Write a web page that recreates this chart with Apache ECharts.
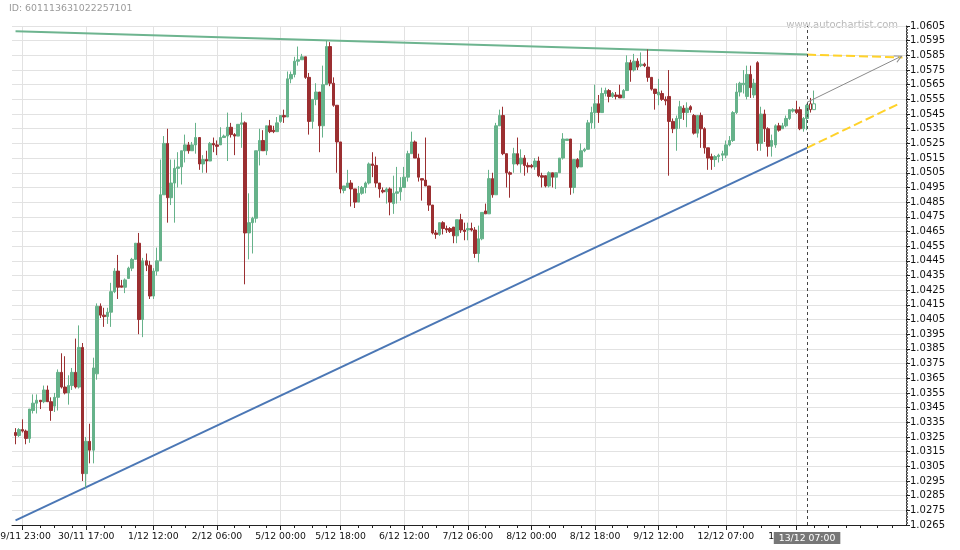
<!DOCTYPE html>
<html>
<head>
<meta charset="utf-8">
<script src="https://cdn.jsdelivr.net/npm/echarts/dist/echarts.min.js"></script>
<style>
html, body { margin: 0; padding: 0; background: #fff; }
#chart { width: 960px; height: 550px; }
</style>
</head>
<body>
<div id="chart"></div>
<script>
// hourly slots on the x axis, first candle sits in slot 1
const slotCount = 254
const tickIndex = [3, 21, 40, 58, 76, 93, 111, 129, 147, 165, 183, 202, 222]
const tickText = ['29/11 23:00', '30/11 17:00', '1/12 12:00', '2/12 06:00', '5/12 00:00', '5/12 18:00',
  '6/12 12:00', '7/12 06:00', '8/12 00:00', '8/12 18:00', '9/12 12:00', '12/12 07:00', '13/12 01:00']
const currentIndex = 225
const currentLabel = '13/12 07:00'
const hollowFrom = 226

// [open, close, low, high]
const candles = [
  [1.0328, 1.0326, 1.0320, 1.0331], [1.0326, 1.0330, 1.0325, 1.0331], [1.0330, 1.0329, 1.0328, 1.0337],
  [1.0329, 1.0324, 1.0320, 1.0330], [1.0324, 1.0344, 1.0321, 1.0344], [1.0343, 1.0348, 1.0341, 1.0354],
  [1.0348, 1.0350, 1.0341, 1.0354], [1.0350, 1.0349, 1.0344, 1.0350], [1.0349, 1.0357, 1.0348, 1.0360],
  [1.0357, 1.0349, 1.0349, 1.0360], [1.0349, 1.0343, 1.0336, 1.0352], [1.0346, 1.0352, 1.0342, 1.0355],
  [1.0352, 1.0369, 1.0343, 1.0371], [1.0369, 1.0359, 1.0358, 1.0382], [1.0359, 1.0355, 1.0354, 1.0380],
  [1.0355, 1.0360, 1.0347, 1.0367], [1.0360, 1.0369, 1.0357, 1.0372], [1.0369, 1.0359, 1.0358, 1.0392],
  [1.0359, 1.0386, 1.0358, 1.0401], [1.0386, 1.0300, 1.0295, 1.0389], [1.0300, 1.0322, 1.0290, 1.0325],
  [1.0322, 1.0316, 1.0307, 1.0334], [1.0316, 1.0372, 1.0307, 1.0379], [1.0368, 1.0414, 1.0364, 1.0416],
  [1.0414, 1.0408, 1.0406, 1.0416], [1.0408, 1.0407, 1.0400, 1.0413], [1.0407, 1.0410, 1.0402, 1.0413],
  [1.0410, 1.0424, 1.0400, 1.0430], [1.0424, 1.0438, 1.0423, 1.0440], [1.0438, 1.0427, 1.0419, 1.0449],
  [1.0428, 1.0427, 1.0427, 1.0432], [1.0427, 1.0432, 1.0423, 1.0433], [1.0433, 1.0440, 1.0433, 1.0441],
  [1.0440, 1.0446, 1.0438, 1.0447], [1.0446, 1.0457, 1.0446, 1.0457], [1.0457, 1.0405, 1.0395, 1.0464],
  [1.0405, 1.0445, 1.0393, 1.0447], [1.0445, 1.0442, 1.0438, 1.0450], [1.0442, 1.0421, 1.0419, 1.0445],
  [1.0421, 1.0438, 1.0419, 1.0440], [1.0438, 1.0445, 1.0435, 1.0454], [1.0445, 1.0490, 1.0445, 1.0514],
  [1.0490, 1.0525, 1.0490, 1.0530], [1.0525, 1.0488, 1.0471, 1.0535], [1.0488, 1.0498, 1.0483, 1.0514],
  [1.0498, 1.0508, 1.0471, 1.0514], [1.0508, 1.0509, 1.0495, 1.0519], [1.0509, 1.0520, 1.0497, 1.0520],
  [1.0520, 1.0524, 1.0512, 1.0531], [1.0524, 1.0520, 1.0518, 1.0526], [1.0520, 1.0524, 1.0520, 1.0526],
  [1.0524, 1.0529, 1.0518, 1.0539], [1.0529, 1.0511, 1.0507, 1.0529], [1.0511, 1.0514, 1.0505, 1.0517],
  [1.0514, 1.0513, 1.0505, 1.0520], [1.0513, 1.0525, 1.0513, 1.0526], [1.0525, 1.0524, 1.0519, 1.0529],
  [1.0524, 1.0523, 1.0517, 1.0527], [1.0524, 1.0529, 1.0524, 1.0536], [1.0529, 1.0530, 1.0529, 1.0531],
  [1.0530, 1.0536, 1.0513, 1.0546], [1.0536, 1.0531, 1.0529, 1.0539], [1.0531, 1.0530, 1.0517, 1.0532],
  [1.0530, 1.0538, 1.0530, 1.0538], [1.0538, 1.0539, 1.0522, 1.0546], [1.0539, 1.0464, 1.0429, 1.0540],
  [1.0464, 1.0471, 1.0446, 1.0491], [1.0471, 1.0474, 1.0450, 1.0475], [1.0474, 1.0520, 1.0471, 1.0520],
  [1.0520, 1.0527, 1.0510, 1.0535], [1.0527, 1.0520, 1.0520, 1.0534], [1.0520, 1.0537, 1.0517, 1.0537],
  [1.0537, 1.0533, 1.0532, 1.0541], [1.0534, 1.0533, 1.0532, 1.0537], [1.0533, 1.0539, 1.0533, 1.0543],
  [1.0540, 1.0544, 1.0539, 1.0544], [1.0544, 1.0543, 1.0539, 1.0548], [1.0543, 1.0569, 1.0543, 1.0574],
  [1.0569, 1.0572, 1.0566, 1.0574], [1.0572, 1.0581, 1.0570, 1.0584], [1.0581, 1.0582, 1.0578, 1.0591],
  [1.0582, 1.0584, 1.0582, 1.0586], [1.0584, 1.0570, 1.0569, 1.0584], [1.0570, 1.0540, 1.0531, 1.0573],
  [1.0540, 1.0555, 1.0535, 1.0555], [1.0555, 1.0560, 1.0551, 1.0566], [1.0560, 1.0537, 1.0519, 1.0560],
  [1.0537, 1.0565, 1.0529, 1.0578], [1.0565, 1.0591, 1.0565, 1.0595], [1.0591, 1.0566, 1.0564, 1.0594],
  [1.0566, 1.0551, 1.0550, 1.0570], [1.0551, 1.0526, 1.0505, 1.0551], [1.0526, 1.0494, 1.0491, 1.0526],
  [1.0493, 1.0496, 1.0491, 1.0496], [1.0495, 1.0498, 1.0495, 1.0507], [1.0498, 1.0494, 1.0482, 1.0500],
  [1.0494, 1.0485, 1.0481, 1.0494], [1.0485, 1.0491, 1.0485, 1.0496], [1.0491, 1.0495, 1.0490, 1.0496],
  [1.0495, 1.0498, 1.0491, 1.0499], [1.0498, 1.0511, 1.0497, 1.0512], [1.0511, 1.0510, 1.0502, 1.0519],
  [1.0510, 1.0498, 1.0495, 1.0516], [1.0498, 1.0494, 1.0488, 1.0498], [1.0493, 1.0492, 1.0491, 1.0495],
  [1.0492, 1.0494, 1.0484, 1.0495], [1.0494, 1.0485, 1.0476, 1.0495], [1.0484, 1.0491, 1.0477, 1.0503],
  [1.0491, 1.0492, 1.0484, 1.0509], [1.0492, 1.0495, 1.0486, 1.0502], [1.0495, 1.0502, 1.0495, 1.0509],
  [1.0502, 1.0518, 1.0499, 1.0520], [1.0518, 1.0526, 1.0518, 1.0533], [1.0526, 1.0515, 1.0515, 1.0527],
  [1.0515, 1.0502, 1.0499, 1.0518], [1.0501, 1.0500, 1.0486, 1.0501], [1.0500, 1.0496, 1.0496, 1.0529],
  [1.0496, 1.0483, 1.0479, 1.0496], [1.0483, 1.0464, 1.0463, 1.0483], [1.0464, 1.0463, 1.0460, 1.0466],
  [1.0463, 1.0471, 1.0462, 1.0471], [1.0471, 1.0467, 1.0463, 1.0472], [1.0467, 1.0466, 1.0464, 1.0469],
  [1.0467, 1.0465, 1.0464, 1.0468], [1.0468, 1.0462, 1.0457, 1.0468], [1.0462, 1.0473, 1.0457, 1.0473],
  [1.0473, 1.0466, 1.0464, 1.0477], [1.0466, 1.0465, 1.0459, 1.0471], [1.0466, 1.0467, 1.0459, 1.0471],
  [1.0467, 1.0466, 1.0465, 1.0471], [1.0466, 1.0450, 1.0447, 1.0468], [1.0450, 1.0460, 1.0444, 1.0469],
  [1.0460, 1.0478, 1.0459, 1.0478], [1.0479, 1.0477, 1.0477, 1.0484], [1.0477, 1.0501, 1.0477, 1.0507],
  [1.0501, 1.0490, 1.0488, 1.0505], [1.0490, 1.0537, 1.0490, 1.0539], [1.0537, 1.0544, 1.0537, 1.0548],
  [1.0544, 1.0518, 1.0517, 1.0550], [1.0518, 1.0505, 1.0495, 1.0518], [1.0505, 1.0504, 1.0488, 1.0506],
  [1.0511, 1.0518, 1.0505, 1.0522], [1.0518, 1.0511, 1.0510, 1.0529], [1.0511, 1.0515, 1.0505, 1.0521],
  [1.0515, 1.0510, 1.0503, 1.0517], [1.0510, 1.0509, 1.0505, 1.0512], [1.0510, 1.0509, 1.0508, 1.0511],
  [1.0509, 1.0513, 1.0507, 1.0515], [1.0513, 1.0503, 1.0502, 1.0516], [1.0503, 1.0502, 1.0495, 1.0505],
  [1.0503, 1.0496, 1.0495, 1.0503], [1.0496, 1.0505, 1.0495, 1.0506], [1.0505, 1.0502, 1.0495, 1.0505],
  [1.0502, 1.0505, 1.0494, 1.0505], [1.0505, 1.0515, 1.0505, 1.0515], [1.0515, 1.0528, 1.0514, 1.0532],
  [1.0527, 1.0528, 1.0527, 1.0528], [1.0528, 1.0495, 1.0490, 1.0528], [1.0495, 1.0514, 1.0491, 1.0514],
  [1.0514, 1.0509, 1.0508, 1.0515], [1.0509, 1.0520, 1.0509, 1.0525], [1.0520, 1.0521, 1.0519, 1.0522],
  [1.0521, 1.0539, 1.0521, 1.0541], [1.0539, 1.0546, 1.0535, 1.0550], [1.0546, 1.0552, 1.0535, 1.0565],
  [1.0552, 1.0546, 1.0539, 1.0558], [1.0546, 1.0559, 1.0546, 1.0563], [1.0559, 1.0561, 1.0557, 1.0563],
  [1.0561, 1.0557, 1.0553, 1.0562], [1.0557, 1.0559, 1.0556, 1.0560], [1.0558, 1.0557, 1.0555, 1.0560],
  [1.0558, 1.0556, 1.0556, 1.0565], [1.0556, 1.0561, 1.0556, 1.0562], [1.0561, 1.0580, 1.0561, 1.0585],
  [1.0580, 1.0575, 1.0567, 1.0582], [1.0575, 1.0581, 1.0574, 1.0586], [1.0581, 1.0577, 1.0575, 1.0583],
  [1.0578, 1.0579, 1.0577, 1.0587], [1.0579, 1.0578, 1.0577, 1.0580], [1.0577, 1.0570, 1.0567, 1.0589],
  [1.0570, 1.0562, 1.0561, 1.0570], [1.0562, 1.0559, 1.0548, 1.0562], [1.0558, 1.0560, 1.0551, 1.0569],
  [1.0559, 1.0555, 1.0554, 1.0561], [1.0555, 1.0554, 1.0551, 1.0557], [1.0557, 1.0540, 1.0503, 1.0575],
  [1.0540, 1.0535, 1.0532, 1.0542], [1.0535, 1.0542, 1.0520, 1.0544], [1.0542, 1.0550, 1.0535, 1.0554],
  [1.0549, 1.0546, 1.0541, 1.0551], [1.0546, 1.0549, 1.0536, 1.0553], [1.0550, 1.0548, 1.0546, 1.0551],
  [1.0544, 1.0532, 1.0531, 1.0545], [1.0532, 1.0544, 1.0529, 1.0544], [1.0544, 1.0535, 1.0522, 1.0546],
  [1.0535, 1.0522, 1.0518, 1.0536], [1.0522, 1.0515, 1.0507, 1.0522], [1.0516, 1.0514, 1.0507, 1.0518],
  [1.0514, 1.0516, 1.0509, 1.0517], [1.0516, 1.0517, 1.0512, 1.0518], [1.0517, 1.0518, 1.0513, 1.0520],
  [1.0517, 1.0524, 1.0515, 1.0527], [1.0524, 1.0527, 1.0523, 1.0530], [1.0527, 1.0546, 1.0526, 1.0547],
  [1.0546, 1.0560, 1.0545, 1.0566], [1.0560, 1.0566, 1.0557, 1.0567], [1.0565, 1.0566, 1.0559, 1.0575],
  [1.0557, 1.0572, 1.0555, 1.0578], [1.0572, 1.0563, 1.0556, 1.0578], [1.0558, 1.0566, 1.0556, 1.0569],
  [1.0580, 1.0525, 1.0520, 1.0581], [1.0525, 1.0545, 1.0520, 1.0550], [1.0545, 1.0535, 1.0526, 1.0548],
  [1.0535, 1.0523, 1.0516, 1.0536], [1.0523, 1.0527, 1.0516, 1.0531], [1.0524, 1.0537, 1.0522, 1.0538],
  [1.0537, 1.0534, 1.0533, 1.0539], [1.0535, 1.0537, 1.0535, 1.0539], [1.0537, 1.0542, 1.0536, 1.0544],
  [1.0542, 1.0548, 1.0541, 1.0548], [1.0547, 1.0548, 1.0546, 1.0549], [1.0548, 1.0546, 1.0545, 1.0554],
  [1.0548, 1.0535, 1.0534, 1.0550], [1.0535, 1.0542, 1.0533, 1.0543], [1.0542, 1.0551, 1.0534, 1.0552],
  [1.0552, 1.0548, 1.0546, 1.0556], [1.0548, 1.0552, 1.0548, 1.0561]
]

// pattern lines as [slot, price]
const resistance = [[1, 1.06014], [225, 1.05855]]
const resistanceProj = [[225, 1.05855], [252, 1.05836]]
const support = [[1, 1.02681], [225, 1.0522]]
const supportProj = [[225, 1.0522], [251, 1.0552]]
const forecast = [[225, 1.0553], [251, 1.05836]]

const up = '#66b28a'
const down = '#9b2f31'
const gridColor = '#e2e2e2'
const axisColor = '#222'

const slots = Array.from({ length: slotCount }, (_, i) => String(i))
const tickSet = new Set(tickIndex)
const labelOf = {}
tickIndex.forEach((t, i) => { labelOf[t] = tickText[i] })

const minorTicks = new Set()
tickIndex.forEach((t, i) => {
  const next = tickIndex[i + 1] !== undefined ? tickIndex[i + 1] : t + 18
  for (let j = 1; j < 4; j++) minorTicks.add(Math.round(t + (next - t) * j / 4))
})
for (let t = tickIndex[tickIndex.length - 1] + 18; t < slotCount; t += 4.5) minorTicks.add(Math.round(t))

const candleData = candles.map((c, i) => {
  const idx = i + 1
  const item = { value: [idx, c[0], c[1], c[2], c[3]] }
  if (idx >= hollowFrom) item.itemStyle = { color: '#fff', color0: '#fff' }
  return item
})

const chevron = 'path://M0,10 L5,0 L10,10 L8.6,10 L5,2.6 L1.4,10 Z'

function trendLine(data, color, dashed) {
  return {
    type: 'line',
    data: data,
    symbol: 'none',
    silent: true,
    z: 3,
    lineStyle: { color: color, width: 2, type: dashed ? [9, 4] : 'solid' }
  }
}

const chart = echarts.init(document.getElementById('chart'))
chart.setOption({
  animation: false,
  textStyle: { fontFamily: 'DejaVu Sans' },
  grid: { left: 12, right: 54, top: 26, bottom: 25, outerBoundsMode: 'none', containLabel: false },
  graphic: [
    {
      type: 'text', left: 9, top: 4,
      style: { text: 'ID: 601113631022257101', fill: '#9a9a9a', fontSize: 9.4, fontFamily: 'DejaVu Sans' }
    },
    {
      type: 'text', right: 62, top: 20,
      style: { text: 'www.autochartist.com', fill: '#b9b9b9', fontSize: 10, fontFamily: 'DejaVu Sans' }
    }
  ],
  xAxis: [
    {
      type: 'category',
      data: slots,
      boundaryGap: false,
      axisLine: { lineStyle: { color: axisColor } },
      axisTick: { length: 5, interval: i => tickSet.has(i), lineStyle: { color: axisColor } },
      axisLabel: {
        interval: i => tickSet.has(i),
        formatter: (v, i) => labelOf[i] || '',
        color: '#111',
        fontSize: 9.3,
        margin: 7
      },
      splitLine: { show: true, interval: i => tickSet.has(i), lineStyle: { color: gridColor } }
    },
    {
      type: 'category',
      data: slots,
      boundaryGap: false,
      position: 'bottom',
      axisLine: { show: false },
      axisLabel: { show: false },
      axisTick: { length: 3, interval: i => minorTicks.has(i), lineStyle: { color: axisColor } },
      splitLine: { show: false }
    }
  ],
  yAxis: {
    type: 'value',
    position: 'right',
    min: 1.0265,
    max: 1.0605,
    interval: 0.001,
    axisLine: { show: true, lineStyle: { color: axisColor } },
    axisTick: { show: true, length: 4, lineStyle: { color: axisColor } },
    minorTick: { show: true, splitNumber: 10, length: 2, lineStyle: { color: '#666' } },
    axisLabel: { formatter: v => v.toFixed(4), color: '#111', fontSize: 10, margin: 4 },
    splitLine: { lineStyle: { color: gridColor } }
  },
  series: [
    {
      type: 'candlestick',
      data: candleData,
      encode: { x: 0, y: [1, 2, 3, 4] },
      barWidth: 3,
      z: 4,
      itemStyle: { color: up, color0: down, borderColor: up, borderColor0: down, borderWidth: 1 },
      markLine: {
        silent: true,
        symbol: ['none', 'none'],
        lineStyle: { color: '#444', width: 1, type: [3, 3] },
        label: {
          show: true,
          position: 'start',
          formatter: currentLabel,
          color: '#fff',
          backgroundColor: '#777',
          padding: [2, 5, 1, 5],
          fontSize: 9.3,
          distance: 7
        },
        data: [{ xAxis: currentIndex }]
      }
    },
    trendLine(resistance, '#6db48f'),
    trendLine(support, '#4b77b5'),
    trendLine(resistanceProj, '#ffd22a', true),
    Object.assign(trendLine(supportProj, '#ffd22a', true), {
      markLine: {
        silent: true,
        symbol: ['none', chevron],
        symbolSize: 8,
        lineStyle: { color: '#8a8a8a', width: 1, type: 'solid' },
        itemStyle: { color: '#8a8a8a' },
        label: { show: false },
        data: [[{ coord: forecast[0] }, { coord: forecast[1] }]]
      }
    })
  ]
})
</script>
</body>
</html>
